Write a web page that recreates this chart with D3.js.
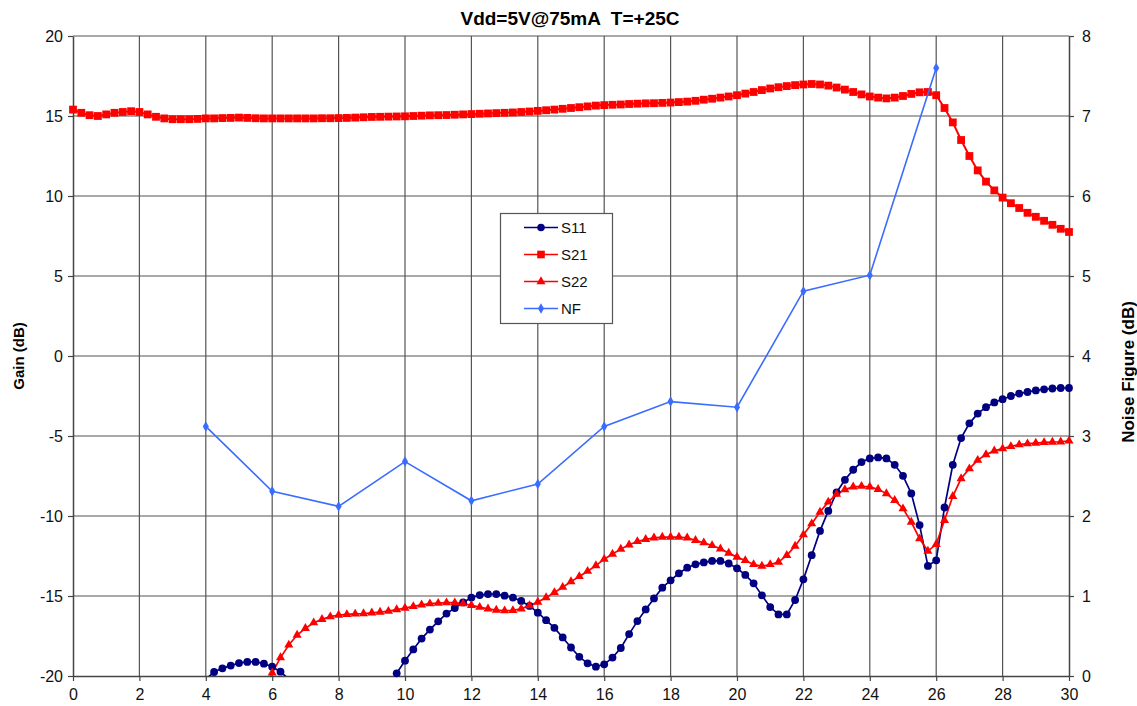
<!DOCTYPE html>
<html><head><meta charset="utf-8">
<script src="https://cdn.jsdelivr.net/npm/d3@7"></script>
<style>body{margin:0;background:#fff;} text{font-family:"Liberation Sans",Arial,sans-serif;}</style>
</head><body><svg id="c" width="1137" height="706"></svg>
<script>
// ---- data ----
const freq = [
 0,0.25,0.5,0.75, 1,1.25,1.5,1.75, 2,2.25,2.5,2.75, 3,3.25,3.5,3.75,
 4,4.25,4.5,4.75, 5,5.25,5.5,5.75, 6,6.25,6.5,6.75, 7,7.25,7.5,7.75,
 8,8.25,8.5,8.75, 9,9.25,9.5,9.75, 10,10.25,10.5,10.75, 11,11.25,11.5,11.75,
 12,12.25,12.5,12.75, 13,13.25,13.5,13.75, 14,14.25,14.5,14.75, 15,15.25,15.5,15.75,
 16,16.25,16.5,16.75, 17,17.25,17.5,17.75, 18,18.25,18.5,18.75, 19,19.25,19.5,19.75,
 20,20.25,20.5,20.75, 21,21.25,21.5,21.75, 22,22.25,22.5,22.75, 23,23.25,23.5,23.75,
 24,24.25,24.5,24.75, 25,25.25,25.5,25.75, 26,26.25,26.5,26.75, 27,27.25,27.5,27.75,
 28,28.25,28.5,28.75, 29,29.25,29.5,29.75, 30];
const s11 = [
 null,null,null,null, null,null,null,null, null,null,null,null, null,null,null,null,
 -20.2,-19.75,-19.52,-19.35, -19.19,-19.12,-19.12,-19.23, -19.42,-19.73,-20.2,null, null,null,null,null,
 null,null,null,null, null,null,-21,-19.83, -19.04,-18.34,-17.66,-17.1, -16.58,-16.1,-15.75,-15.4,
 -15.1,-14.94,-14.88,-14.88, -14.98,-15.1,-15.31,-15.62, -16.04,-16.51,-16.99,-17.59, -18.22,-18.8,-19.21,-19.42,
 -19.27,-18.85,-18.25,-17.38, -16.57,-15.84,-15.15,-14.48, -14.02,-13.58,-13.23,-13.02, -12.9,-12.81,-12.81,-12.97,
 -13.27,-13.68,-14.21,-14.96, -15.69,-16.15,-16.15,-15.25, -13.96,-12.45,-10.93,-9.68, -8.53,-7.74,-7.11,-6.63,
 -6.4,-6.34,-6.4,-6.8, -7.49,-8.59,-10.57,-13.12, -12.77,-9.47,-6.8,-5.13, -4.21,-3.6,-3.2,-2.9,
 -2.7,-2.5,-2.35,-2.25, -2.15,-2.08,-2.03,-2.0, -2.0];
const s21 = [
 15.4,15.2,15.05,15.0, 15.1,15.2,15.25,15.3, 15.25,15.1,14.95,14.85, 14.8,14.8,14.8,14.82,
 14.85,14.85,14.87,14.88, 14.9,14.88,14.86,14.85, 14.85,14.85,14.85,14.85, 14.85,14.85,14.86,14.86,
 14.87,14.88,14.9,14.92, 14.94,14.95,14.96,14.97, 14.98,15.0,15.02,15.04, 15.05,15.06,15.08,15.1,
 15.12,15.14,15.16,15.18, 15.2,15.22,15.25,15.28, 15.32,15.36,15.4,15.45, 15.5,15.55,15.6,15.65,
 15.68,15.7,15.72,15.75, 15.77,15.79,15.8,15.82, 15.84,15.87,15.9,15.95, 16.02,16.08,16.15,16.22,
 16.3,16.4,16.5,16.62, 16.72,16.8,16.87,16.93, 16.97,17.0,16.97,16.9, 16.78,16.65,16.5,16.35,
 16.22,16.15,16.1,16.15, 16.25,16.38,16.48,16.5, 16.3,15.5,14.6,13.5, 12.5,11.6,10.9,10.35,
 9.9,9.55,9.25,8.95, 8.7,8.45,8.2,7.95, 7.75];
const s22 = [
 null,null,null,null, null,null,null,null, null,null,null,null, null,null,null,null,
 null,null,null,null, null,null,null,-21, -19.8,-18.85,-18.06,-17.44, -17.02,-16.67,-16.46,-16.29,
 -16.19,-16.15,-16.12,-16.1, -16.05,-16.0,-15.95,-15.85, -15.75,-15.65,-15.55,-15.48, -15.45,-15.42,-15.42,-15.48,
 -15.58,-15.7,-15.8,-15.88, -15.92,-15.9,-15.8,-15.6, -15.38,-15.1,-14.78,-14.45, -14.1,-13.78,-13.45,-13.1,
 -12.7,-12.38,-12.07,-11.8, -11.59,-11.46,-11.36,-11.32, -11.32,-11.32,-11.36,-11.52, -11.67,-11.84,-12.05,-12.32,
 -12.57,-12.78,-13.03,-13.13, -13.03,-12.88,-12.46,-11.88, -11.17,-10.48,-9.75,-9.12, -8.64,-8.35,-8.18,-8.14,
 -8.18,-8.33,-8.6,-9.02, -9.54,-10.38,-11.42,-12.19, -11.77,-10.27,-8.77,-7.66, -7.04,-6.51,-6.16,-5.93,
 -5.79,-5.65,-5.54,-5.48, -5.44,-5.4,-5.38,-5.36, -5.31];
const nfFreq = [4,6,8,10,12,14,16,18,20,22,24,26];
const nf = [3.12,2.31,2.12,2.68,2.19,2.4,3.12,3.43,3.36,4.81,5.01,7.6];
const xTicks = [0,2,4,6,8,10,12,14,16,18,20,22,24,26,28,30];
const gainTicks = [-20,-15,-10,-5,0,5,10,15,20];
const nfTicks = [0,1,2,3,4,5,6,7,8];
const title = "Vdd=5V@75mA  T=+25C";

// ---- chart ----
const svg = d3.select("#c");
const L=73, R=1069, T=36, B=676;
const x = d3.scaleLinear().domain([0,30]).range([L,R]);
const y = d3.scaleLinear().domain([-20,20]).range([B,T]);
const y2 = d3.scaleLinear().domain([0,8]).range([B,T]);
const gridC = "#555";
const fmt = d => String(d);

svg.append("rect").attr("width",1137).attr("height",706).attr("fill","#fff");

svg.append("defs").append("clipPath").attr("id","clip")
  .append("rect").attr("x",L).attr("y",T).attr("width",R-L).attr("height",B-T);

// grid
svg.append("g").selectAll("line").data(xTicks.slice(1,-1)).join("line")
  .attr("x1",d=>x(d)).attr("x2",d=>x(d)).attr("y1",T).attr("y2",B)
  .attr("stroke",gridC).attr("stroke-width",1.2);
svg.append("g").selectAll("line").data(gainTicks.slice(1)).join("line")
  .attr("x1",L).attr("x2",R).attr("y1",d=>y(d)).attr("y2",d=>y(d))
  .attr("stroke",gridC).attr("stroke-width",1.2);

// axes
function styleAxis(g){
  g.select(".domain").attr("stroke","#444").attr("stroke-width",1.5);
  g.selectAll(".tick line").attr("stroke","#444").attr("stroke-width",1.2);
  g.selectAll("text").attr("font-size",16).attr("fill","#111")
   .attr("font-family","'Liberation Sans',Arial,sans-serif");
}
svg.append("g").attr("transform",`translate(${L},0)`)
  .call(d3.axisLeft(y).tickValues(gainTicks).tickFormat(fmt).tickSize(5).tickPadding(5).tickSizeOuter(0))
  .call(styleAxis);
svg.append("g").attr("transform",`translate(${R},0)`)
  .call(d3.axisRight(y2).tickValues(nfTicks).tickFormat(fmt).tickSize(5).tickPadding(8).tickSizeOuter(0))
  .call(styleAxis);
svg.append("g").attr("transform",`translate(0,${B})`)
  .call(d3.axisBottom(x).tickValues(xTicks).tickFormat(fmt).tickSize(5).tickPadding(8).tickSizeOuter(0))
  .call(styleAxis);

// titles
svg.append("text").attr("x",570).attr("y",25).attr("text-anchor","middle")
  .attr("font-weight","bold").attr("font-size",19).style("white-space","pre").text(title);
svg.append("text").attr("transform","translate(24,356) rotate(-90)").attr("text-anchor","middle")
  .attr("font-weight","bold").attr("font-size",15).text("Gain (dB)");
svg.append("text").attr("transform","translate(1134,372) rotate(-90)").attr("text-anchor","middle")
  .attr("font-weight","bold").attr("font-size",17).text("Noise Figure (dB)");

// series
const pts = (xs, ys) => xs.map((f,i)=>({f, v: ys[i]}));
const line = d3.line().defined(d=>d.v!=null).x(d=>x(d.f)).y(d=>y(d.v));
const plot = svg.append("g").attr("clip-path","url(#clip)");

const d11 = pts(freq,s11), d21 = pts(freq,s21), d22 = pts(freq,s22);
const navy = "#000080", red = "#ff0000", blue = "#3a6cff";

plot.append("path").datum(d11).attr("d",line).attr("fill","none").attr("stroke",navy).attr("stroke-width",1.7);
svg.append("g").selectAll("circle").data(d11.filter(d=>d.v!=null && d.v>=-20)).join("circle")
  .attr("cx",d=>x(d.f)).attr("cy",d=>y(d.v)).attr("r",3.9).attr("fill",navy);

plot.append("path").datum(d21).attr("d",line).attr("fill","none").attr("stroke",red).attr("stroke-width",2);
svg.append("g").selectAll("rect").data(d21).join("rect")
  .attr("x",d=>x(d.f)-3.9).attr("y",d=>y(d.v)-3.9).attr("width",7.8).attr("height",7.8).attr("fill",red);

plot.append("path").datum(d22).attr("d",line).attr("fill","none").attr("stroke",red).attr("stroke-width",1.7);
const tri = d3.symbol().type(d3.symbolTriangle).size(36);
svg.append("g").selectAll("path").data(d22.filter(d=>d.v!=null && d.v>=-20)).join("path")
  .attr("d",tri).attr("transform",d=>`translate(${x(d.f)},${y(d.v)})`).attr("fill",red);

const dnf = pts(nfFreq,nf);
const line2 = d3.line().x(d=>x(d.f)).y(d=>y2(d.v));
svg.append("path").datum(dnf).attr("d",line2).attr("fill","none").attr("stroke",blue).attr("stroke-width",1.6);
const dia = d3.symbol().type(d3.symbolDiamond).size(32);
svg.append("g").selectAll("path").data(dnf).join("path")
  .attr("d",dia).attr("transform",d=>`translate(${x(d.f)},${y2(d.v)})`).attr("fill",blue);

// legend
const lg = svg.append("g");
lg.append("rect").attr("x",500.5).attr("y",213.5).attr("width",112).attr("height",110)
  .attr("fill","#fff").attr("stroke","#555").attr("stroke-width",1.2);
const legendItems = [
  {name:"S11", color:navy, sym:"circle"},
  {name:"S21", color:red, sym:"square"},
  {name:"S22", color:red, sym:"triangle"},
  {name:"NF", color:blue, sym:"diamond"}];
legendItems.forEach((it,i)=>{
  const cy = 227.5 + i*27;
  lg.append("line").attr("x1",524).attr("x2",558).attr("y1",cy).attr("y2",cy)
    .attr("stroke",it.color).attr("stroke-width",1.6);
  let s;
  if(it.sym==="circle") s=d3.symbol().type(d3.symbolCircle).size(45);
  if(it.sym==="square") s=d3.symbol().type(d3.symbolSquare).size(58);
  if(it.sym==="triangle") s=d3.symbol().type(d3.symbolTriangle).size(36);
  if(it.sym==="diamond") s=d3.symbol().type(d3.symbolDiamond).size(32);
  lg.append("path").attr("d",s).attr("transform",`translate(541,${cy})`).attr("fill",it.color);
  lg.append("text").attr("x",561).attr("y",cy+5.5).attr("font-size",15).attr("fill","#111").text(it.name);
});
</script></body></html>
